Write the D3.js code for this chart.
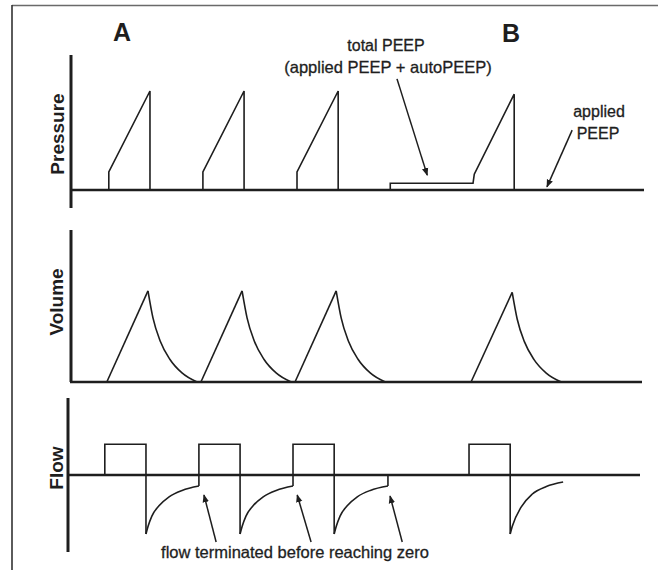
<!DOCTYPE html>
<html>
<head>
<meta charset="utf-8">
<script src="https://cdn.jsdelivr.net/npm/d3@7"></script>
<style>
  html, body { margin: 0; padding: 0; background: #fff; }
  svg { display: block; font-family: "Liberation Sans", Arial, Helvetica, sans-serif; }
</style>
</head>
<body>
<svg id="chart" width="658" height="570"></svg>
<script>
// ---------------- data (time in s) ----------------
const timeDomain = [0, 13.64];
const breathStart = [0.9, 3.14, 5.38, 9.57];
const breathEnd = [1.88, 4.12, 6.36, 10.55];      // end of inspiration

// Pressure (cmH2O): jump at start of inspiration, peak at end
const pressureJump = [4, 4, 4, 3.5];
const pressurePeak = [22, 22, 22, 21.3];
const autoPeepStart = 7.6;
const totalPeep = 1.5;

// Volume (L)
const volumePeak = [0.6, 0.6, 0.6, 0.59];
const volumeDecayDt = [0, 0.12, 0.29, 0.52, 0.81, 1.17];
const volumeDecay = [1, 0.70, 0.45, 0.25, 0.10, 0];   // fraction of peak

// Flow (L/min)
const inspFlow = 24;
const flowDecayDt = [0, 0.05, 0.14, 0.31, 0.55, 0.86, 1.26];
const flowDecay = [-46, -40, -32, -24, -17, -12, -8.6];
const flowDecayDtLast = [0, 0.05, 0.26, 0.52, 0.86, 1.26];
const flowDecayLast = [-46, -40, -25, -15, -9, -5.5];
const flowTerminated = [3.14, 5.38, 7.64];   // times expiratory flow is cut off

// ---------------- layout ----------------
const svg = d3.select("#chart");
const ink = "#1e1e1e";

const xP = d3.scaleLinear().domain(timeDomain).range([71, 644]);
const xV = d3.scaleLinear().domain(timeDomain).range([69, 642]);
const xF = d3.scaleLinear().domain(timeDomain).range([67, 640]);
const yP = d3.scaleLinear().domain([0, 30]).range([190, 55]);
const yV = d3.scaleLinear().domain([0, 1]).range([382, 230]);
const yF = d3.scaleLinear().domain([-60, 60]).range([552, 398]);

// frame
svg.append("line").attr("x1", 12).attr("x2", 658).attr("y1", 5.5).attr("y2", 5.5)
  .attr("stroke", "#6a6a6a").attr("stroke-width", 1.6);
svg.append("line").attr("x1", 12).attr("x2", 12).attr("y1", 5).attr("y2", 570)
  .attr("stroke", "#333").attr("stroke-width", 1.6);

// arrow marker
svg.append("defs").append("marker")
  .attr("id", "arrow").attr("viewBox", "0 0 10 10")
  .attr("refX", 9).attr("refY", 5)
  .attr("markerWidth", 8).attr("markerHeight", 8)
  .attr("markerUnits", "userSpaceOnUse")
  .attr("orient", "auto")
  .append("path").attr("d", "M0,1 L10,5 L0,9 Z").attr("fill", ink);

const lin = (xs, ys) => d3.line().x(d => xs(d[0])).y(d => ys(d[1]));
const smooth = (xs, ys) => d3.line().x(d => xs(d[0])).y(d => ys(d[1])).curve(d3.curveMonotoneX);

function trace(g, d, gen) {
  g.append("path").attr("d", gen(d)).attr("fill", "none")
    .attr("stroke", ink).attr("stroke-width", 1.6).attr("stroke-linejoin", "miter");
}

// ---------------- Pressure ----------------
const gP = svg.append("g");
gP.append("line").attr("x1", xP(0)).attr("x2", xP(0)).attr("y1", yP(30)).attr("y2", yP(-4))
  .attr("stroke", ink).attr("stroke-width", 3);
gP.append("line").attr("x1", xP(0)).attr("x2", xP(timeDomain[1])).attr("y1", yP(0)).attr("y2", yP(0))
  .attr("stroke", ink).attr("stroke-width", 2.6);

breathStart.forEach((t0, i) => {
  const pts = [];
  if (i === 3) {
    pts.push([autoPeepStart, 0], [autoPeepStart, totalPeep], [t0, totalPeep], [t0 + 0.03, pressureJump[i]]);
  } else {
    pts.push([t0, 0], [t0, pressureJump[i]]);
  }
  pts.push([breathEnd[i], pressurePeak[i]], [breathEnd[i], 0]);
  trace(gP, pts, lin(xP, yP));
});

// ---------------- Volume ----------------
const gV = svg.append("g");
gV.append("line").attr("x1", xV(0) + 2).attr("x2", xV(0) + 2).attr("y1", yV(1)).attr("y2", yV(0))
  .attr("stroke", ink).attr("stroke-width", 3);
gV.append("line").attr("x1", xV(0) + 1).attr("x2", xV(timeDomain[1])).attr("y1", yV(0)).attr("y2", yV(0))
  .attr("stroke", ink).attr("stroke-width", 2.6);

breathStart.forEach((t0, i) => {
  trace(gV, [[t0, 0], [breathEnd[i], volumePeak[i]]], lin(xV, yV));
  const dec = volumeDecayDt.map((dt, k) => [breathEnd[i] + dt, volumePeak[i] * volumeDecay[k]]);
  trace(gV, dec, smooth(xV, yV));
});

// ---------------- Flow ----------------
const gF = svg.append("g");
gF.append("line").attr("x1", xF(0) + 1).attr("x2", xF(0) + 1).attr("y1", yF(60)).attr("y2", yF(-60))
  .attr("stroke", ink).attr("stroke-width", 3);
gF.append("line").attr("x1", xF(0) + 1).attr("x2", xF(timeDomain[1])).attr("y1", yF(0)).attr("y2", yF(0))
  .attr("stroke", ink).attr("stroke-width", 2.6);

breathStart.forEach((t0, i) => {
  const startLevel = (i === 1 || i === 2) ? flowDecay[flowDecay.length - 1] : 0;
  trace(gF, [[t0, startLevel], [t0, inspFlow], [breathEnd[i], inspFlow], [breathEnd[i], flowDecay[0]]], lin(xF, yF));
  const dts = i === 3 ? flowDecayDtLast : flowDecayDt;
  const vals = i === 3 ? flowDecayLast : flowDecay;
  const dec = dts.map((dt, k) => [breathEnd[i] + dt, vals[k]]);
  if (i === 2) dec[dec.length - 1][0] = flowTerminated[2];
  trace(gF, dec, smooth(xF, yF));
  if (i === 2) {
    trace(gF, [[flowTerminated[2], vals[vals.length - 1]], [flowTerminated[2], 0]], lin(xF, yF));
  }
});

// ---------------- Labels ----------------
function axisLabel(text, x, y) {
  svg.append("text").attr("transform", `translate(${x},${y}) rotate(-90)`)
    .attr("text-anchor", "middle").attr("font-weight", "bold").attr("font-size", 19)
    .attr("fill", ink).text(text);
}
axisLabel("Pressure", 64, 134);
axisLabel("Volume", 63, 302);
axisLabel("Flow", 63, 468);

svg.append("text").attr("x", 122).attr("y", 41).attr("text-anchor", "middle")
  .attr("font-weight", "bold").attr("font-size", 25).attr("fill", ink).text("A");
svg.append("text").attr("x", 511).attr("y", 42).attr("text-anchor", "middle")
  .attr("font-weight", "bold").attr("font-size", 25).attr("fill", ink).text("B");

function note(text, x, y, size) {
  svg.append("text").attr("x", x).attr("y", y).attr("text-anchor", "middle")
    .attr("font-size", size).attr("fill", ink)
    .attr("stroke", ink).attr("stroke-width", 0.3).text(text);
}
note("total PEEP", 386, 51, 16);
note("(applied PEEP + autoPEEP)", 388, 73, 16.5);
note("applied", 599, 117, 16);
note("PEEP", 598, 139, 16);
note("flow terminated before reaching zero", 295, 558, 16.5);

function arrow(xs, ys, from, to) {
  svg.append("line")
    .attr("x1", xs(from[0])).attr("y1", ys(from[1]))
    .attr("x2", xs(to[0])).attr("y2", ys(to[1]))
    .attr("stroke", ink).attr("stroke-width", 1.5)
    .attr("marker-end", "url(#arrow)");
}
arrow(xP, yP, [7.76, 24.7], [8.48, 3.3]);
arrow(xP, yP, [11.93, 13.3], [11.33, 0.7]);
arrow(xF, yF, [3.55, -52.2], [3.26, -15.6]);
arrow(xF, yF, [5.81, -52.2], [5.48, -15.6]);
arrow(xF, yF, [7.98, -52.2], [7.69, -16.4]);
</script>
</body>
</html>
